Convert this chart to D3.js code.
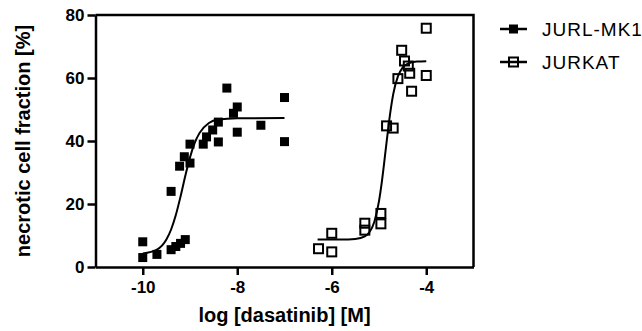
<!DOCTYPE html>
<html>
<head>
<meta charset="utf-8">
<script src="https://cdn.jsdelivr.net/npm/d3@7"></script>
<style>
  body { margin: 0; background: #fff; }
  svg text { font-family: 'Liberation Sans', Arial, sans-serif; fill: #000; }
  .axis text { font-size: 17px; font-weight: bold; }
  .axis path, .axis line { stroke: #000; stroke-width: 2.5px; }
</style>
</head>
<body>
<div id="chart"></div>
<script>
// JURL-MK1 measured points (log M, %)
const jurlX = [-10, -10, -9.7, -9.4, -9.4, -9.3, -9.2, -9.1, -9.22, -9.12, -9.0, -9.0, -8.72, -8.65, -8.52, -8.4, -8.4, -8.22, -8.08, -8.0, -8.0, -7.5, -7.0, -7.0];
const jurlY = [8, 3, 4, 24, 5.5, 6.5, 7.5, 8.7, 32, 35, 33, 39, 39, 41.3, 43.5, 39.7, 46, 56.8, 48.8, 50.8, 42.8, 45, 53.8, 39.8];

// JURKAT measured points
const jurkatX = [-6.28, -6.0, -6.0, -5.3, -5.3, -4.96, -4.96, -4.84, -4.7, -4.6, -4.52, -4.46, -4.38, -4.35, -4.31, -4.0, -4.0];
const jurkatY = [5.8, 10.7, 4.8, 13.9, 11.7, 17, 13.7, 44.8, 44.1, 59.8, 68.8, 65.4, 63.8, 61.5, 55.8, 75.8, 60.8];

// fitted curves
const jurlFitX = [-10, -9.7, -9.5, -9.4, -9.3, -9.2, -9.1, -9.0, -8.9, -8.8, -8.6, -8.4, -8.0, -7.0];
const jurlFitY = [4.3, 5.5, 8.7, 11.9, 16.5, 22.4, 28.9, 34.8, 39.4, 42.5, 45.7, 46.8, 47.2, 47.3];
const jurkatFitX = [-6.3, -5.8, -5.5, -5.3, -5.2, -5.1, -5.0, -4.95, -4.9, -4.85, -4.8, -4.75, -4.7, -4.6, -4.5, -4.4, -4.2, -4.0];
const jurkatFitY = [8.7, 8.7, 8.9, 9.7, 11.1, 14.3, 20.9, 25.9, 31.9, 38.3, 44.6, 50.2, 54.8, 60.5, 63.3, 64.5, 65.2, 65.3];

const xTicks = [-10, -8, -6, -4];
const yTicks = [0, 20, 40, 60, 80];
const xDomain = [-11, -3];
const yDomain = [0, 80];
const seriesNames = ['JURL-MK1', 'JURKAT'];

const width = 642, height = 331;
const margin = {top: 15, left: 95.5, right: 168.5, bottom: 64};

const svg = d3.select('#chart')
              .append('svg')
              .attr('width', width)
              .attr('height', height);

const x = d3.scaleLinear().domain(xDomain).range([margin.left, width - margin.right]);
const y = d3.scaleLinear().domain(yDomain).range([height - margin.bottom, margin.top]);

// frame top + right
svg.append('path')
   .attr('d', `M${x(xDomain[0])},${y(yDomain[1])}H${x(xDomain[1])}V${y(yDomain[0])}`)
   .attr('fill', 'none')
   .attr('stroke', '#000')
   .attr('stroke-width', 2.5);

svg.append('g')
   .attr('class', 'axis axis-x')
   .attr('transform', `translate(0, ${y(yDomain[0])})`)
   .call(d3.axisBottom(x).tickValues(xTicks).tickSize(8).tickSizeOuter(0).tickPadding(6)
           .tickFormat(d3.format('d')))
   .selectAll('text').text(d => '-' + Math.abs(d));

svg.append('g')
   .attr('class', 'axis axis-y')
   .attr('transform', `translate(${x(xDomain[0])}, 0)`)
   .call(d3.axisLeft(y).tickValues(yTicks).tickSize(8).tickSizeOuter(0).tickPadding(3));

const line = d3.line()
               .x(d => x(d[0]))
               .y(d => y(d[1]))
               .curve(d3.curveMonotoneX);

svg.append('path')
   .datum(d3.zip(jurlFitX, jurlFitY))
   .attr('d', line)
   .attr('fill', 'none')
   .attr('stroke', '#000')
   .attr('stroke-width', 2);

svg.append('path')
   .datum(d3.zip(jurkatFitX, jurkatFitY))
   .attr('d', line)
   .attr('fill', 'none')
   .attr('stroke', '#000')
   .attr('stroke-width', 2);

const sq = 9;
svg.append('g')
   .selectAll('rect')
   .data(d3.zip(jurlX, jurlY))
   .enter()
   .append('rect')
   .attr('x', d => x(d[0]) - sq / 2)
   .attr('y', d => y(d[1]) - sq / 2)
   .attr('width', sq)
   .attr('height', sq)
   .attr('fill', '#000');

svg.append('g')
   .selectAll('rect')
   .data(d3.zip(jurkatX, jurkatY))
   .enter()
   .append('rect')
   .attr('x', d => x(d[0]) - sq / 2)
   .attr('y', d => y(d[1]) - sq / 2)
   .attr('width', sq)
   .attr('height', sq)
   .attr('fill', 'none')
   .attr('stroke', '#000')
   .attr('stroke-width', 2);

// axis titles
svg.append('text')
   .attr('x', (x(xDomain[0]) + x(xDomain[1])) / 2)
   .attr('y', 322)
   .attr('text-anchor', 'middle')
   .style('font-size', '20px')
   .style('font-weight', 'bold')
   .text('log [dasatinib] [M]');

svg.append('text')
   .attr('transform', `translate(30, ${(y(yDomain[0]) + y(yDomain[1])) / 2}) rotate(-90)`)
   .attr('text-anchor', 'middle')
   .style('font-size', '20px')
   .style('font-weight', 'bold')
   .text('necrotic cell fraction [%]');

// legend
const legend = svg.append('g')
                  .selectAll('g')
                  .data(seriesNames)
                  .enter()
                  .append('g')
                  .attr('transform', (d, i) => `translate(500, ${29 + i * 33})`);

legend.append('line')
      .attr('x1', 0).attr('x2', 27)
      .attr('stroke', '#000')
      .attr('stroke-width', 2.5);

legend.append('rect')
      .attr('x', 13.5 - 4.5).attr('y', -4.5)
      .attr('width', 9).attr('height', 9)
      .attr('fill', (d, i) => i === 0 ? '#000' : 'none')
      .attr('stroke', '#000')
      .attr('stroke-width', (d, i) => i === 0 ? 0 : 2);

legend.append('text')
      .attr('x', 42)
      .attr('dy', '0.36em')
      .style('font-size', '19px')
      .style('letter-spacing', '1px')
      .text(d => d);
</script>
</body>
</html>
